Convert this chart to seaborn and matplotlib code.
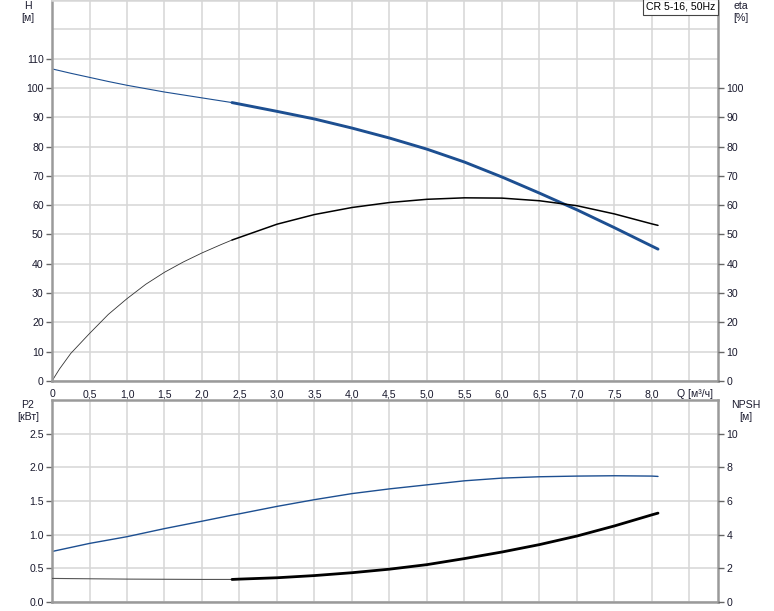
import matplotlib
matplotlib.use("Agg")
import matplotlib.pyplot as plt
import seaborn as sns
import numpy as np
import pandas as pd

sns.set_style("white")
plt.rcParams['font.family'] = ['Liberation Sans', 'DejaVu Sans']

# ---- data ----
Q = [0.0, 0.25, 0.5, 0.75, 1.0, 1.5, 2.0, 2.4, 2.5, 3.0, 3.5, 4.0, 4.5, 5.0,
     5.5, 6.0, 6.5, 7.0, 7.5, 8.0, 8.08]
H = [106.5, 105.0, 103.6, 102.2, 100.9, 98.6, 96.6, 95.0, 94.5, 92.0, 89.4, 86.3,
     82.9, 79.1, 74.7, 69.6, 64.1, 58.4, 52.3, 46.0, 45.0]
P2 = [0.75, 0.81, 0.87, 0.92, 0.97, 1.09, 1.20, 1.29, 1.31, 1.42, 1.52, 1.61, 1.68,
      1.74, 1.80, 1.84, 1.86, 1.87, 1.875, 1.87, 1.865]
NPSH = [1.40, 1.39, 1.38, 1.37, 1.36, 1.35, 1.34, 1.34, 1.36, 1.44, 1.57, 1.74, 1.95,
        2.22, 2.58, 2.97, 3.41, 3.92, 4.52, 5.18, 5.28]
Q_ETA = [0.0, 0.1, 0.25, 0.5, 0.75, 1.0, 1.25, 1.5, 1.75, 2.0, 2.25, 2.4, 2.5,
         3.0, 3.5, 4.0, 4.5, 5.0, 5.5, 6.0, 6.5, 7.0, 7.5, 8.0, 8.08]
ETA = [0.0, 4.1, 9.4, 16.2, 22.7, 28.1, 33.0, 37.1, 40.6, 43.7, 46.5, 48.1, 49.0,
       53.5, 56.8, 59.2, 60.9, 62.0, 62.5, 62.4, 61.5, 59.8, 57.0, 53.6, 53.1]
Q_SPLIT = 2.4  # start of recommended operating range (thick line)

X_TICKS = [0, 0.5, 1.0, 1.5, 2.0, 2.5, 3.0, 3.5, 4.0, 4.5, 5.0, 5.5, 6.0, 6.5, 7.0, 7.5, 8.0, 8.5]
X_LABELS = ["0", "0,5", "1,0", "1,5", "2,0", "2,5", "3,0", "3,5", "4,0", "4,5",
            "5,0", "5,5", "6,0", "6,5", "7,0", "7,5", "8,0", ""]
H_TICKS = [0, 10, 20, 30, 40, 50, 60, 70, 80, 90, 100, 110]
H_EXTRA_GRID = [120, 130]
ETA_TICKS = [0, 10, 20, 30, 40, 50, 60, 70, 80, 90, 100]
P2_TICKS = [0.0, 0.5, 1.0, 1.5, 2.0, 2.5]
P2_LABELS = ["0.0", "0.5", "1.0", "1.5", "2.0", "2.5"]
NPSH_TICKS = [0, 2, 4, 6, 8, 10]
TITLE = "CR 5-16, 50Hz"

df = pd.DataFrame({"Q": Q, "H": H, "P2": P2, "NPSH": NPSH})
de = pd.DataFrame({"Q": Q_ETA, "eta": ETA})
thin, thick = df[df.Q <= Q_SPLIT], df[df.Q >= Q_SPLIT]
ethin, ethick = de[de.Q <= Q_SPLIT], de[de.Q >= Q_SPLIT]

W, Hpx = 774, 611
fig = plt.figure(figsize=(W / 100, Hpx / 100), dpi=100)

def px(x0, y0, x1, y1):
    return [x0 / W, 1 - y1 / Hpx, (x1 - x0) / W, (y1 - y0) / Hpx]

ax1 = fig.add_axes(px(52, 0, 718, 381))
ax2 = fig.add_axes(px(52, 400, 718, 602))

BLUE = "#1d4f91"
SPINE = "#9a9a9a"
GRID = "#d6d6d6"
TXT = "#1a1a2e"
FS = 7.6
XMAX = 8.88

def style(ax):
    ax.set_xlim(0, XMAX)
    ax.set_xticks(X_TICKS)
    ax.grid(True, color=GRID, lw=1.1)
    ax.set_axisbelow(True)
    for s in ax.spines.values():
        s.set_color(SPINE)
        s.set_linewidth(1.8)
    ax.tick_params(axis='both', colors="#666666", length=4, width=1, labelcolor=TXT,
                   labelsize=FS, pad=2)

def line(data, y, ax, color, lw):
    sns.lineplot(data=data, x="Q", y=y, ax=ax, color=color, lw=lw, sort=False,
                 estimator=None)
    ax.set_xlabel("")
    ax.set_ylabel("")

# ---- top panel ----
style(ax1)
ax1.set_ylim(0, 130)
ax1.set_yticks(H_TICKS)
ax1.set_xticklabels(X_LABELS)
for v in H_EXTRA_GRID:
    ax1.axhline(v, color=GRID, lw=1.1, zorder=0.5)
ax1.spines["top"].set_color(GRID)

line(thin, "H", ax1, BLUE, 0.8)
line(thick, "H", ax1, BLUE, 2.1)
line(ethin, "eta", ax1, "#333333", 0.6)
line(ethick, "eta", ax1, "black", 1.1)

ax1r = ax1.twinx()
ax1r.set_ylim(0, 130)
ax1r.set_yticks(ETA_TICKS)
ax1r.tick_params(axis='y', colors="#666666", length=4, width=1, labelcolor=TXT,
                 labelsize=FS, pad=2)
for s in ax1r.spines.values():
    s.set_visible(False)

ax1.text(8.58, -2.6, "Q [м³/ч]", ha="center", va="top", fontsize=FS, color=TXT,
         clip_on=False)

ax1.text(0.996, 0.995, TITLE, transform=ax1.transAxes, ha="right", va="top",
         fontsize=FS, color="black",
         bbox=dict(boxstyle="square,pad=0.25", fc="white", ec="#444444", lw=0.8))

# ---- bottom panel ----
style(ax2)
ax2.set_ylim(0, 3.0)
ax2.set_yticks(P2_TICKS)
ax2.set_yticklabels(P2_LABELS)
ax2.tick_params(axis='x', length=0, labelbottom=False)

line(df, "P2", ax2, BLUE, 1.0)

ax2r = ax2.twinx()
line(thin, "NPSH", ax2r, "#555555", 0.8)
line(thick, "NPSH", ax2r, "black", 2.0)
ax2r.set_ylim(0, 12)
ax2r.set_xlim(0, XMAX)
ax2r.set_yticks(NPSH_TICKS)
ax2r.tick_params(axis='y', colors="#666666", length=4, width=1, labelcolor=TXT,
                 labelsize=FS, pad=2)
ax2r.grid(False)
for s in ax2r.spines.values():
    s.set_visible(False)

# ---- axis titles ----
def ftext(x, y, s):
    fig.text(x / W, 1 - y / Hpx, s, ha="center", va="center", fontsize=FS, color=TXT)

ftext(28, 6, "H")
ftext(28, 18, "[м]")
ftext(741, 6, "eta")
ftext(741, 18, "[%]")
ftext(28, 405, "P2")
ftext(28, 417, "[кВт]")
ftext(746, 405, "NPSH")
ftext(746, 417, "[м]")

fig.savefig("out.png", dpi=100)
